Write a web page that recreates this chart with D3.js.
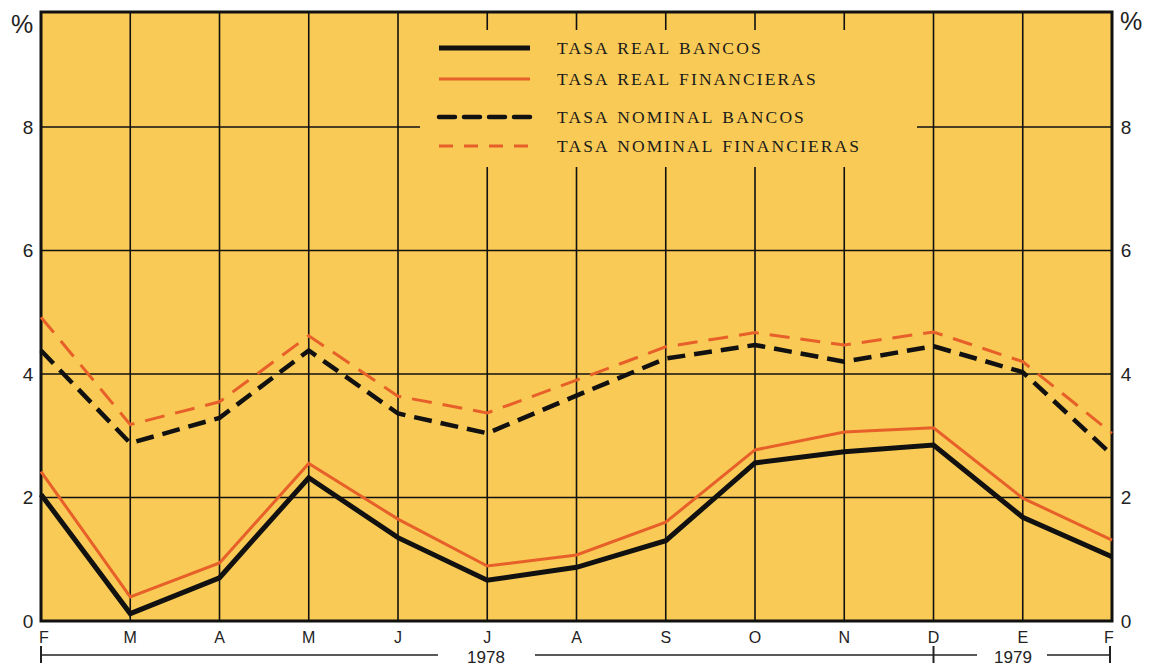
<!DOCTYPE html>
<html><head><meta charset="utf-8">
<script src="https://cdn.jsdelivr.net/npm/d3@7"></script>
<style>body{margin:0;background:#fff}svg{display:block}</style>
</head><body>
<svg id="c" width="1150" height="667"></svg>
<script>
const months = ["F","M","A","M","J","J","A","S","O","N","D","E","F"];
const realBancos =        [2.05, 0.12, 0.70, 2.32, 1.35, 0.66, 0.87, 1.30, 2.56, 2.74, 2.85, 1.68, 1.04];
const realFinancieras =   [2.42, 0.39, 0.94, 2.55, 1.65, 0.89, 1.07, 1.60, 2.77, 3.06, 3.13, 1.99, 1.31];
const nominalBancos =     [4.38, 2.88, 3.29, 4.38, 3.36, 3.04, 3.65, 4.25, 4.47, 4.20, 4.45, 4.03, 2.69];
const nominalFinancieras= [4.92, 3.18, 3.55, 4.62, 3.64, 3.37, 3.90, 4.44, 4.67, 4.47, 4.68, 4.20, 3.04];
const yTicks = [0, 2, 4, 6, 8];
const years = [{label:"1978", from:0, to:10}, {label:"1979", from:10, to:12}];
const seriesNames = ["TASA REAL BANCOS","TASA REAL FINANCIERAS","TASA NOMINAL BANCOS","TASA NOMINAL FINANCIERAS"];

(function(){
const BG = "#F9CA55", ORANGE = "#E7602A";
const svg = d3.select("#c");
const pL = 41, pR = 1112, pB = 621, pT = 12;
const x = d3.scaleLinear().domain([0, months.length-1]).range([pL, pR]);
const y = d3.scaleLinear().domain([0, 8]).range([pB, 127]);

svg.append("rect").attr("x", pL).attr("y", pT).attr("width", pR-pL).attr("height", pB-pT).attr("fill", BG);

// grid
const g = svg.append("g").attr("stroke", "#111").attr("stroke-width", 1.6);
months.forEach((m,i)=>{ if(i>0 && i<months.length-1) g.append("line").attr("x1", x(i)).attr("x2", x(i)).attr("y1", pT).attr("y2", pB); });
yTicks.forEach(t=>{ if(t>0) g.append("line").attr("x1", pL).attr("x2", pR).attr("y1", y(t)).attr("y2", y(t)); });

// legend mask
svg.append("rect").attr("x", 420).attr("y", 30).attr("width", 497).attr("height", 137).attr("fill", BG);

// border
svg.append("rect").attr("x", pL).attr("y", pT).attr("width", pR-pL).attr("height", pB-pT)
  .attr("fill", "none").attr("stroke", "#111").attr("stroke-width", 3);

// axis labels
const fSans = "'Liberation Sans', Arial, sans-serif";
yTicks.forEach(t=>{
  svg.append("text").attr("x", 28).attr("y", y(t)).attr("dy", "0.36em").attr("text-anchor","middle")
    .attr("font-family", fSans).attr("font-size", 19).attr("fill","#222").text(t);
  svg.append("text").attr("x", 1126).attr("y", y(t)).attr("dy", "0.36em").attr("text-anchor","middle")
    .attr("font-family", fSans).attr("font-size", 19).attr("fill","#222").text(t);
});
svg.append("text").attr("x", 22).attr("y", 24).attr("dy","0.36em").attr("text-anchor","middle").attr("font-family", fSans).attr("font-size", 25).attr("fill","#222").text("%");
svg.append("text").attr("x", 1131).attr("y", 21).attr("dy","0.36em").attr("text-anchor","middle").attr("font-family", fSans).attr("font-size", 25).attr("fill","#222").text("%");

months.forEach((m,i)=>{
  svg.append("text").attr("x", x(i) + (i===0?3:(i===months.length-1?-3:0))).attr("y", 637).attr("dy","0.36em").attr("text-anchor","middle")
    .attr("font-family", fSans).attr("font-size", 16).attr("fill","#222").text(m);
});

// year brackets
const yb = svg.append("g").attr("stroke","#222").attr("stroke-width",1.4);
yb.append("line").attr("x1", x(years[0].from)).attr("x2", 438).attr("y1", 655).attr("y2", 655);
yb.append("line").attr("x1", 535).attr("x2", x(years[0].to)).attr("y1", 655).attr("y2", 655);
yb.append("line").attr("x1", x(years[1].from)).attr("x2", 977).attr("y1", 655).attr("y2", 655);
yb.append("line").attr("x1", 1047).attr("x2", x(years[1].to)-2).attr("y1", 655).attr("y2", 655);
[x(0), x(10), x(12)-2].forEach(px=> yb.append("line").attr("x1",px).attr("x2",px).attr("y1",646).attr("y2",663).attr("stroke-width",2));
svg.append("text").attr("x", 486).attr("y", 657).attr("dy","0.36em").attr("text-anchor","middle").attr("font-family", fSans).attr("font-size", 17).attr("fill","#222").text(years[0].label);
svg.append("text").attr("x", 1013).attr("y", 657).attr("dy","0.36em").attr("text-anchor","middle").attr("font-family", fSans).attr("font-size", 17).attr("fill","#222").text(years[1].label);

// lines
const line = d3.line().x((d,i)=>x(i)).y(d=>y(d));
const styles = [
  {data: realBancos, color:"#111", w:5, dash:null},
  {data: realFinancieras, color:ORANGE, w:3, dash:null},
  {data: nominalBancos, color:"#111", w:4.5, dash:"18,9"},
  {data: nominalFinancieras, color:ORANGE, w:3, dash:"20,11"}
];
[2,3,0,1].forEach(k=>{
  const s = styles[k];
  svg.append("path").attr("d", line(s.data)).attr("fill","none").attr("stroke", s.color)
    .attr("stroke-width", s.w).attr("stroke-linejoin","miter").attr("stroke-dasharray", s.dash);
});

// legend
const ly = [48, 79, 117, 146];
styles.forEach((s,i)=>{
  svg.append("line").attr("x1", 439).attr("x2", 530).attr("y1", ly[i]).attr("y2", ly[i])
    .attr("stroke", s.color).attr("stroke-width", s.w).attr("stroke-dasharray", s.dash ? (i===2?"16,9":"14,11") : null)
    .attr("stroke-linecap", i===2?"round":"butt");
  svg.append("text").attr("x", 557).attr("y", ly[i]).attr("dy","0.35em")
    .attr("font-family", "'Liberation Serif', 'Times New Roman', serif").attr("font-size", 17.5)
    .attr("letter-spacing", 2.1).attr("word-spacing", 2).attr("fill","#1a1a1a").text(seriesNames[i]);
});
})();
</script>
</body></html>
